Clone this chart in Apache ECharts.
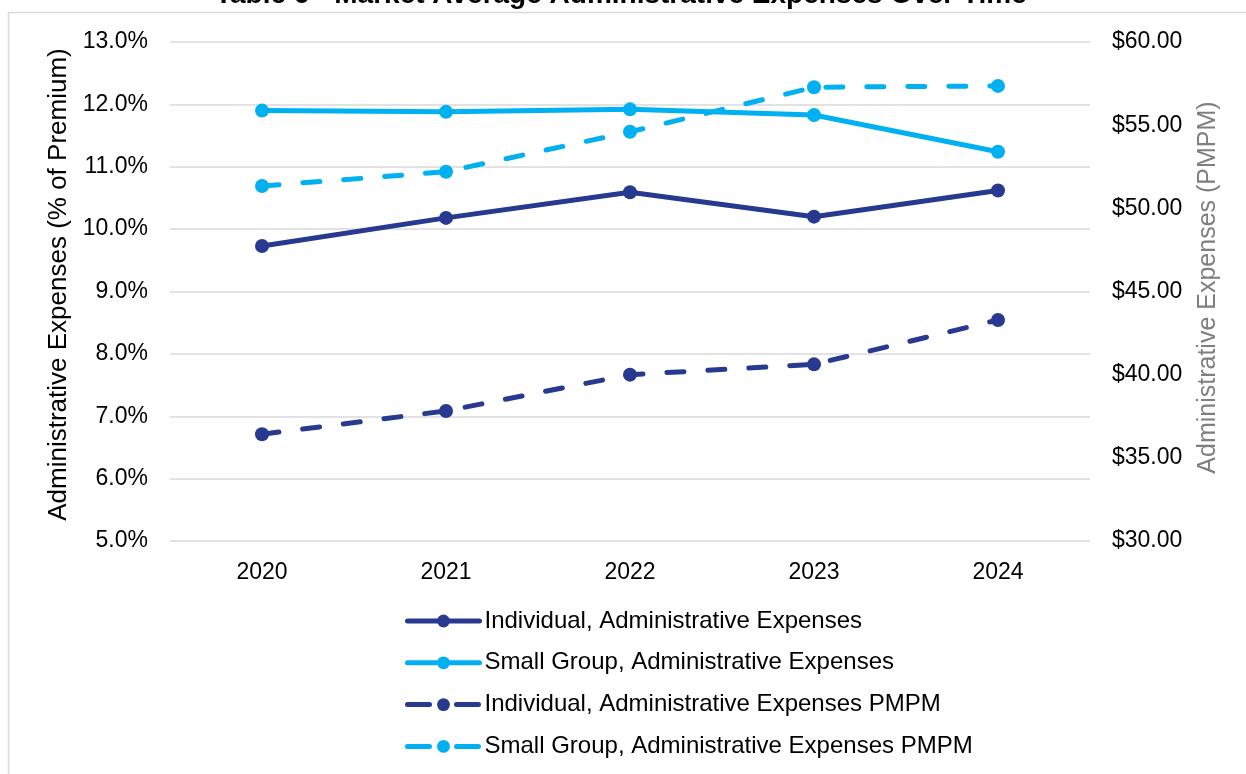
<!DOCTYPE html>
<html>
<head>
<meta charset="utf-8">
<script src="https://cdn.jsdelivr.net/npm/echarts@6/dist/echarts.min.js"></script>
<style>
  html, body { margin: 0; padding: 0; background: #fff; }
  #chart { width: 1246px; height: 774px; }
</style>
</head>
<body>
<div id="chart"></div>
<script>
// data
var years = ['2020', '2021', '2022', '2023', '2024'];
var indAdmin = [9.73, 10.18, 10.59, 10.20, 10.62];      // % of premium
var sgAdmin = [11.90, 11.88, 11.92, 11.83, 11.24];      // % of premium
var indPmpm = [36.42, 37.82, 40.00, 40.62, 43.29];      // $ PMPM
var sgPmpm = [51.34, 52.20, 54.60, 57.28, 57.36];       // $ PMPM

var seriesNames = [
  'Individual, Administrative Expenses',
  'Small Group, Administrative Expenses',
  'Individual, Administrative Expenses PMPM',
  'Small Group, Administrative Expenses PMPM'
];

var NAVY = '#283a90', SKY = '#00b0f0';
var FONT = '"Liberation Sans", Arial, sans-serif';

function lineSeries(name, data, color, dashed, axisIdx){
  return {
    name: name,
    type: 'line',
    yAxisIndex: axisIdx,
    data: data,
    symbol: 'circle',
    symbolSize: 14,
    itemStyle: { color: color },
    lineStyle: {
      color: color,
      width: 5,
      type: dashed ? [17, 24] : 'solid',
      cap: 'round'
    },
    z: dashed ? 3 : 2
  };
}

// legend entries: dashed ones get a shorter pattern so the icon reads "- o -"
var legendData = seriesNames.map(function(n, i){
  return {
    name: n,
    lineStyle: { width: 5, cap: 'round', type: i > 1 ? [22, 27] : 'solid' }
  };
});

var chart = echarts.init(document.getElementById('chart'));
chart.setOption({
  animation: false,
  textStyle: { fontFamily: FONT },
  title: {
    text: 'Table 6 - Market Average Administrative Expenses Over Time',
    left: 215,
    top: -19,
    padding: 0,
    textStyle: { fontSize: 28, fontWeight: 'bold', color: '#000', fontFamily: FONT }
  },
  graphic: [{
    type: 'rect',
    shape: { x: 8.5, y: 12.5, width: 1300, height: 800 },
    style: { fill: null, stroke: '#d9d9d9', lineWidth: 1.5 },
    silent: true
  }],
  grid: { left: 170, right: 156, top: 42, bottom: 233 },
  legend: {
    orient: 'vertical',
    left: 400,
    top: 604,
    itemWidth: 72,
    itemHeight: 16,
    itemGap: 17.8,
    data: legendData,
    textStyle: { fontSize: 24, color: '#000', fontFamily: FONT }
  },
  xAxis: {
    type: 'category',
    data: years,
    boundaryGap: true,
    axisLine: { show: false },
    axisTick: { show: false },
    axisLabel: { fontSize: 23, color: '#000', margin: 20 }
  },
  yAxis: [
    {
      type: 'value',
      min: 5, max: 13, interval: 1,
      name: 'Administrative Expenses (% of Premium)',
      nameLocation: 'middle',
      nameGap: 96,
      nameTextStyle: { fontSize: 26, color: '#000', padding: [0, 0, 0, 14] },
      axisLine: { show: false },
      axisTick: { show: false },
      axisLabel: {
        fontSize: 23, color: '#000', margin: 22,
        formatter: function(v){ return v.toFixed(1) + '%'; }
      },
      splitLine: { lineStyle: { color: '#d9d9d9', width: 1.5 } }
    },
    {
      type: 'value',
      position: 'right',
      min: 30, max: 60, interval: 5,
      name: 'Administrative Expenses (PMPM)',
      nameLocation: 'middle',
      nameGap: 106,
      nameTextStyle: { fontSize: 25, color: '#7f7f7f', padding: [0, 0, 0, 8] },
      axisLine: { show: false },
      axisTick: { show: false },
      axisLabel: {
        fontSize: 23, color: '#000', margin: 22,
        formatter: function(v){ return '$' + v.toFixed(2); }
      },
      splitLine: { show: false }
    }
  ],
  series: [
    lineSeries(seriesNames[0], indAdmin, NAVY, false, 0),
    lineSeries(seriesNames[1], sgAdmin, SKY, false, 0),
    lineSeries(seriesNames[2], indPmpm, NAVY, true, 1),
    lineSeries(seriesNames[3], sgPmpm, SKY, true, 1)
  ]
});
</script>
</body>
</html>
